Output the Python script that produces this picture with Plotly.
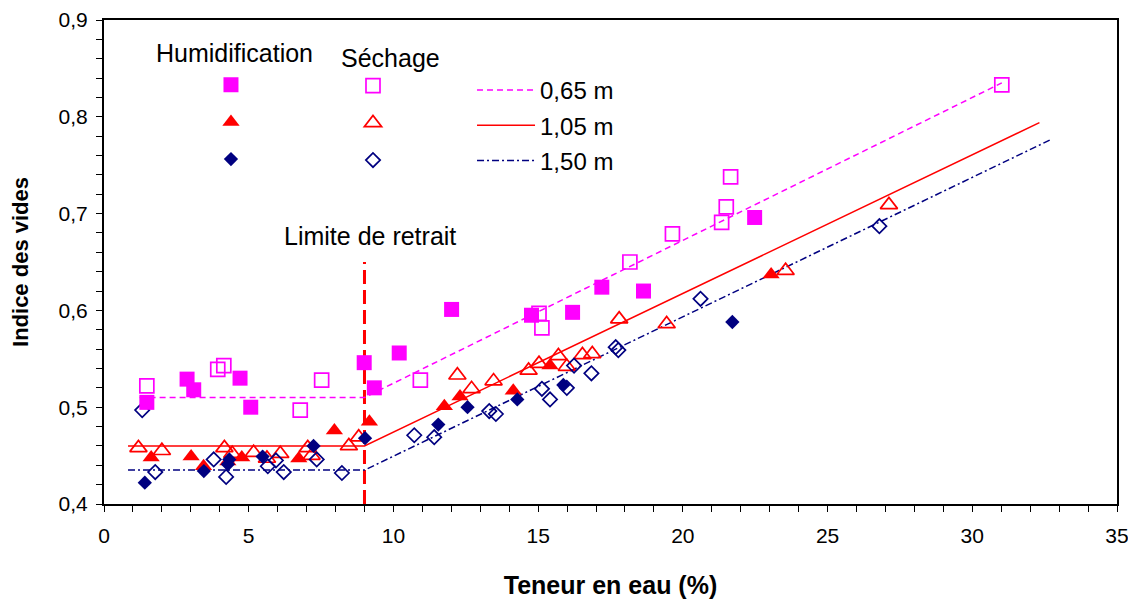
import plotly.graph_objects as go

# ---------------- data ----------------
# Humidification (filled markers)
hum_065_x = [1.48, 2.87, 3.10, 4.70, 5.07, 8.99, 9.34, 10.20, 12.01, 14.77, 16.19, 17.20, 18.64, 22.48]
hum_065_y = [0.505, 0.529, 0.518, 0.530, 0.500, 0.546, 0.520, 0.556, 0.601, 0.595, 0.598, 0.624, 0.620, 0.696]

hum_105_x = [1.63, 3.01, 3.44, 4.28, 4.76, 6.73, 7.96, 9.17, 11.76, 12.30, 14.14, 15.41, 23.05]
hum_105_y = [0.448, 0.449, 0.439, 0.444, 0.448, 0.447, 0.476, 0.485, 0.501, 0.511, 0.517, 0.543, 0.637]

hum_150_x = [1.41, 3.45, 4.33, 4.28, 5.48, 7.24, 9.02, 11.55, 12.56, 14.28, 15.87, 21.71]
hum_150_y = [0.422, 0.434, 0.446, 0.441, 0.449, 0.460, 0.468, 0.482, 0.500, 0.508, 0.523, 0.588]

# Séchage (open markers)
sec_065_x = [1.48, 3.93, 4.14, 6.78, 7.52, 10.93, 15.03, 15.13, 18.17, 19.64, 21.34, 21.50, 21.65, 31.02]
sec_065_y = [0.522, 0.539, 0.543, 0.497, 0.528, 0.528, 0.597, 0.582, 0.650, 0.679, 0.691, 0.707, 0.738, 0.833]

sec_105_x = [1.19, 2.00, 4.16, 4.43, 5.17, 5.63, 6.09, 7.04, 7.17, 8.46, 8.80, 12.21, 12.70, 13.46,
             14.67, 15.03, 15.70, 15.99, 16.53, 16.87, 17.80, 19.44, 23.55, 27.12]
sec_105_y = [0.458, 0.455, 0.458, 0.452, 0.453, 0.447, 0.452, 0.458, 0.450, 0.460, 0.469, 0.533, 0.519, 0.527,
             0.538, 0.545, 0.553, 0.542, 0.554, 0.555, 0.591, 0.586, 0.641, 0.709]

sec_150_x = [1.32, 1.77, 3.79, 4.22, 5.66, 5.94, 6.21, 7.35, 8.22, 10.72, 11.41, 13.31, 13.54, 15.13,
             15.41, 15.99, 16.24, 16.84, 17.68, 17.77, 20.61, 26.79]
sec_150_y = [0.497, 0.433, 0.446, 0.428, 0.439, 0.445, 0.433, 0.446, 0.432, 0.471, 0.469, 0.496, 0.493, 0.519,
             0.508, 0.520, 0.543, 0.535, 0.562, 0.559, 0.612, 0.687]

# Fitted lines (breakpoints)
fit_065_x = [1.23, 9.0, 31.02]
fit_065_y = [0.510, 0.510, 0.835]
fit_105_x = [0.83, 9.0, 32.32]
fit_105_y = [0.460, 0.460, 0.794]
fit_150_x = [0.83, 9.0, 32.75]
fit_150_y = [0.435, 0.435, 0.777]

limite_x = [9.0, 9.0]
limite_y = [0.40, 0.65]

depth_labels = ["0,65 m", "1,05 m", "1,50 m"]

# ---------------- styles ----------------
MAG = "#FF00FF"
RED = "#FF0000"
NAVY = "#000080"
FONT = "Liberation Sans, Arial, sans-serif"

fig = go.Figure()

# Limite de retrait vertical line
fig.add_trace(go.Scatter(x=limite_x, y=limite_y, mode="lines",
                         line=dict(color=RED, width=3, dash="14px,6px"),
                         showlegend=False, hoverinfo="skip"))

# Fit lines (legend3)
for (lx, ly, col, dash, lab, grp) in [
    (fit_065_x, fit_065_y, MAG, "6px,4px", depth_labels[0], "l1"),
    (fit_105_x, fit_105_y, RED, "solid", depth_labels[1], "l2"),
    (fit_150_x, fit_150_y, NAVY, "7px,3px,2px,3px", depth_labels[2], "l3"),
]:
    fig.add_trace(go.Scatter(x=lx, y=ly, mode="lines", name=lab,
                             line=dict(color=col, width=1.5, dash=dash),
                             legend="legend3", legendgroup=grp))

# Séchage open markers (legend2)
for (mx, my, col, sym, sz, grp) in [
    (sec_065_x, sec_065_y, MAG, "square-open", 14, "s1"),
    (sec_105_x, sec_105_y, RED, "triangle-up-open", 15, "s2"),
    (sec_150_x, sec_150_y, NAVY, "diamond-open", 11, "s3"),
]:
    fig.add_trace(go.Scatter(x=mx, y=my, mode="markers", name=" ",
                             marker=dict(color=col, symbol=sym, size=sz, line=dict(width=1.7, color=col)),
                             legend="legend2", legendgroup=grp))

# Humidification filled markers (legend1)
for (mx, my, col, sym, sz, grp) in [
    (hum_065_x, hum_065_y, MAG, "square", 15, "h1"),
    (hum_105_x, hum_105_y, RED, "triangle-up", 15, "h2"),
    (hum_150_x, hum_150_y, NAVY, "diamond", 11, "h3"),
]:
    fig.add_trace(go.Scatter(x=mx, y=my, mode="markers", name=" ",
                             marker=dict(color=col, symbol=sym, size=sz, line=dict(width=0)),
                             legend="legend", legendgroup=grp))

leg_common = dict(bgcolor="rgba(0,0,0,0)", borderwidth=0, font=dict(family=FONT, size=24, color="black"),
                  xanchor="left", yanchor="top", traceorder="grouped")

# The page body has an 8px default margin: size the figure so that the plot
# area lands at x 104..1117, y 20..496 in the 1136x599 window.
fig.update_layout(
    width=1128, height=591,
    margin=dict(l=96, r=19, t=12, b=95),
    paper_bgcolor="white", plot_bgcolor="white",
    separators=", ",
    font=dict(family=FONT, color="black"),
    legend=dict(x=0.1056, y=0.912, tracegroupgap=3, **leg_common),
    legend2=dict(x=0.2458, y=0.91, tracegroupgap=3, **leg_common),
    legend3=dict(x=0.3633, y=0.901, itemwidth=58, tracegroupgap=1, **leg_common),
    xaxis=dict(range=[0, 35], dtick=5, tick0=0, showgrid=False, zeroline=False, automargin=False,
               showline=True, linecolor="black", linewidth=2, mirror=True,
               ticks="outside", ticklen=6, tickcolor="black", tickwidth=1,
               minor=dict(dtick=1, ticks="outside", ticklen=6, tickcolor="black", showgrid=False),
               tickfont=dict(family=FONT, size=21, color="black"), ticklabelstandoff=6,
               title=dict(text="<b>Teneur en eau (%)</b>", font=dict(family=FONT, size=25, color="black"),
                          standoff=35)),
    yaxis=dict(range=[0.4, 0.9], dtick=0.1, tick0=0.4, tickformat=".1f", showgrid=False, zeroline=False,
               automargin=False,
               showline=True, linecolor="black", linewidth=2, mirror=True,
               ticks="outside", ticklen=6, tickcolor="black", tickwidth=1,
               minor=dict(dtick=0.02, ticks="outside", ticklen=6, tickcolor="black", showgrid=False),
               tickfont=dict(family=FONT, size=21, color="black"), ticklabelstandoff=4,
               title=dict(text="<b>Indice des vides</b>", font=dict(family=FONT, size=22, color="black"),
                          standoff=24)),
    annotations=[
        dict(text="Humidification", xref="paper", yref="paper", x=(234 - 104) / 1013, y=(496 - 52) / 476,
             showarrow=False, font=dict(family=FONT, size=25, color="black"), xanchor="center", yanchor="middle"),
        dict(text="Séchage", xref="paper", yref="paper", x=(390 - 104) / 1013, y=(496 - 57) / 476,
             showarrow=False, font=dict(family=FONT, size=25, color="black"), xanchor="center", yanchor="middle"),
        dict(text="Limite de retrait", xref="x", yref="y", x=9.2, y=0.677,
             showarrow=False, font=dict(family=FONT, size=25, color="black"), xanchor="center", yanchor="middle"),
    ],
)

fig.write_html("out.html")
